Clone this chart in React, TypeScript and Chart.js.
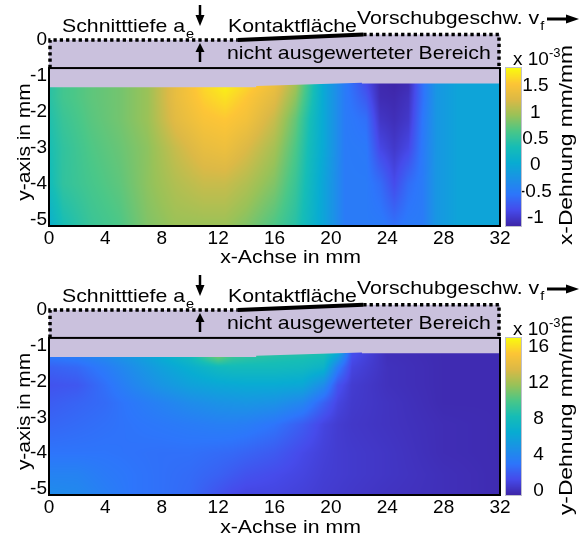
import React, { useEffect, useRef } from "react";
import { Chart, registerables } from "chart.js";

Chart.register(...registerables);

// ---------- axes ----------
const X_TICKS = [0, 4, 8, 12, 16, 20, 24, 28, 32];
const Y_TICKS = [0, -1, -2, -3, -4, -5];
const X_MIN = 0;
const X_MAX = 32;
const Y_MIN = -5.17;
const Y_MAX = 0;
const FRAME_TOP = -0.78;

// top edge of the evaluated data region (mm)
const DATA_TOP_X = [0, 14.7, 14.7, 22.2, 22.2, 32];
const DATA_TOP_Y = [-1.31, -1.31, -1.28, -1.19, -1.21, -1.21];

// workpiece surface / contact line (mm)
const CONTACT_START = [13.4, 0];
const CONTACT_END = [22.3, 0.15];

// ---------- x-strain (x 1e-3) ----------
const EX_X = [0, 1, 3, 5, 7, 9, 11, 12.5, 14, 16, 17.5, 18.5, 19.5, 21, 22.5, 23.5, 24.5, 25.5, 26.5, 27.5, 29, 32];
const EX_Y = [-1.2, -1.6, -2.2, -3, -4, -5.17];
const EX_ROW_1 = [0.45, 0.6, 0.72, 0.8, 0.95, 1.35, 1.65, 1.8, 1.65, 1.4, 1.0, 0.5, 0.0, -0.5, -0.85, -1.12, -1.15, -1.1, -0.6, -0.2, -0.05, -0.05];
const EX_ROW_2 = [0.45, 0.6, 0.72, 0.8, 0.95, 1.35, 1.6, 1.7, 1.55, 1.3, 0.9, 0.45, 0.0, -0.5, -0.75, -1.1, -1.12, -1.05, -0.6, -0.2, -0.05, -0.05];
const EX_ROW_3 = [0.4, 0.55, 0.7, 0.8, 0.95, 1.3, 1.5, 1.55, 1.45, 1.15, 0.75, 0.35, 0.0, -0.5, -0.6, -1.02, -1.08, -1.0, -0.55, -0.2, -0.05, -0.05];
const EX_ROW_4 = [0.35, 0.5, 0.66, 0.76, 0.9, 1.15, 1.35, 1.4, 1.25, 1.0, 0.65, 0.3, 0.0, -0.5, -0.52, -0.88, -1.0, -0.88, -0.52, -0.2, -0.05, -0.05];
const EX_ROW_5 = [0.3, 0.5, 0.62, 0.72, 0.9, 1.05, 1.15, 1.15, 1.05, 0.85, 0.55, 0.25, -0.05, -0.5, -0.5, -0.62, -0.85, -0.62, -0.5, -0.2, -0.05, -0.05];
const EX_ROW_6 = [0.1, 0.35, 0.55, 0.65, 0.85, 0.95, 0.95, 0.95, 0.85, 0.65, 0.45, 0.2, -0.05, -0.5, -0.5, -0.5, -0.58, -0.5, -0.5, -0.2, -0.05, -0.05];
const EX_CB_MIN = -1.15;
const EX_CB_MAX = 1.84;
const EX_CB_TICKS = [-1, -0.5, 0, 0.5, 1, 1.5];

// ---------- y-strain (x 1e-3) ----------
const EY_X = [0, 2, 4, 6, 8, 10, 12, 13, 14, 16, 18, 19.5, 20.5, 21.5, 24, 28, 32];
const EY_Y = [-1.2, -1.6, -2.1, -2.6, -3.2, -4, -4.6, -5.17];
const EY_ROW_1 = [3.5, 3.8, 4.5, 5.5, 6.8, 8.2, 12, 10, 9.5, 9.0, 8.8, 8.5, 6.5, 1.5, 0.0, -0.2, -0.2];
const EY_ROW_2 = [2.2, 2.5, 3.4, 4.6, 5.8, 6.8, 7.8, 8.0, 8.0, 8.0, 7.8, 7.2, 3.5, 1.0, 0.1, -0.2, -0.2];
const EY_ROW_3 = [1.6, 1.8, 2.8, 4.0, 5.0, 5.8, 6.2, 6.3, 6.4, 6.4, 6.2, 4.4, 1.6, 0.6, 0.1, -0.2, -0.2];
const EY_ROW_4 = [2.0, 2.3, 2.6, 3.2, 3.8, 4.4, 4.8, 4.9, 5.0, 4.8, 4.0, 2.2, 1.0, 0.5, 0.2, -0.2, -0.2];
const EY_ROW_5 = [2.4, 2.6, 2.8, 3.0, 3.2, 3.4, 3.6, 3.6, 3.5, 3.0, 2.0, 1.0, 0.6, 0.4, 0.2, -0.1, -0.2];
const EY_ROW_6 = [3.0, 3.0, 3.0, 2.9, 2.8, 2.8, 2.6, 2.5, 2.3, 1.9, 1.2, 0.8, 0.6, 0.5, 0.3, -0.1, -0.2];
const EY_ROW_7 = [3.8, 3.8, 3.3, 3.0, 2.8, 2.6, 2.2, 1.9, 1.6, 1.3, 1.0, 0.7, 0.6, 0.5, 0.3, 0.0, -0.2];
const EY_ROW_8 = [4.4, 4.2, 3.6, 3.0, 2.8, 2.5, 1.6, 1.2, 1.0, 1.0, 0.8, 0.6, 0.5, 0.4, 0.2, 0.0, -0.2];
const EY_CB_MIN = -0.45;
const EY_CB_MAX = 17.0;
const EY_CB_TICKS = [0, 4, 8, 12, 16];

// parula-like colormap anchors
const CMAP_POS = [0, 0.1, 0.2, 0.3, 0.4, 0.5, 0.6, 0.7, 0.8, 0.9, 1];
const CMAP_RGB = [
  [62, 38, 168], [70, 75, 235], [45, 118, 251], [27, 146, 230], [8, 172, 210],
  [22, 189, 182], [74, 199, 136], [153, 194, 88], [220, 185, 70], [253, 197, 54], [249, 251, 14],
];

const FONT_FAMILY = "'Liberation Sans', Arial, Helvetica, sans-serif";
const LAVENDER = "rgb(202,193,221)";
const SX = 1.12;

type Panel = {
  xs: number[];
  ys: number[];
  rows: number[][];
  cbMin: number;
  cbMax: number;
  cbTicks: number[];
  cbTitle: string;
  cbPad: number;
};

const PANEL_X: Panel = {
  xs: EX_X,
  ys: EX_Y,
  rows: [EX_ROW_1, EX_ROW_2, EX_ROW_3, EX_ROW_4, EX_ROW_5, EX_ROW_6],
  cbMin: EX_CB_MIN,
  cbMax: EX_CB_MAX,
  cbTicks: EX_CB_TICKS,
  cbTitle: "x-Dehnung mm/mm",
  cbPad: 19,
};

const PANEL_Y: Panel = {
  xs: EY_X,
  ys: EY_Y,
  rows: [EY_ROW_1, EY_ROW_2, EY_ROW_3, EY_ROW_4, EY_ROW_5, EY_ROW_6, EY_ROW_7, EY_ROW_8],
  cbMin: EY_CB_MIN,
  cbMax: EY_CB_MAX,
  cbTicks: EY_CB_TICKS,
  cbTitle: "y-Dehnung mm/mm",
  cbPad: 28,
};

function cmap(t: number): number[] {
  const u = Math.max(0, Math.min(1, t));
  for (let i = 0; i < CMAP_POS.length - 1; i++) {
    if (u <= CMAP_POS[i + 1]) {
      const f = (u - CMAP_POS[i]) / (CMAP_POS[i + 1] - CMAP_POS[i]);
      const a = CMAP_RGB[i];
      const b = CMAP_RGB[i + 1];
      return [a[0] + (b[0] - a[0]) * f, a[1] + (b[1] - a[1]) * f, a[2] + (b[2] - a[2]) * f];
    }
  }
  return CMAP_RGB[CMAP_RGB.length - 1];
}

function locate(arr: number[], v: number): [number, number] {
  const n = arr.length;
  const asc = arr[n - 1] > arr[0];
  const before = (a: number, b: number) => (asc ? a <= b : a >= b);
  if (before(v, arr[0])) return [0, 0];
  if (before(arr[n - 1], v)) return [n - 2, 1];
  for (let i = 0; i < n - 1; i++) {
    if (before(v, arr[i + 1])) return [i, (v - arr[i]) / (arr[i + 1] - arr[i])];
  }
  return [n - 2, 1];
}

function sample(p: Panel, xv: number, yv: number): number {
  const [i, tx] = locate(p.xs, xv);
  const [j, ty] = locate(p.ys, yv);
  const r0 = p.rows[j];
  const r1 = p.rows[j + 1];
  const a = r0[i] + (r0[i + 1] - r0[i]) * tx;
  const b = r1[i] + (r1[i + 1] - r1[i]) * tx;
  return a + (b - a) * ty;
}

function sText(
  ctx: CanvasRenderingContext2D,
  text: string,
  x: number,
  y: number,
  size: number,
  sx: number,
  align: CanvasTextAlign = "left",
  baseline: CanvasTextBaseline = "alphabetic",
  rot = 0
): number {
  ctx.save();
  ctx.font = `${size}px ${FONT_FAMILY}`;
  ctx.fillStyle = "#000";
  ctx.textAlign = align;
  ctx.textBaseline = baseline;
  ctx.translate(x, y);
  if (rot) ctx.rotate(rot);
  ctx.scale(sx, 1);
  ctx.fillText(text, 0, 0);
  const w = ctx.measureText(text).width * sx;
  ctx.restore();
  return w;
}

function arrow(ctx: CanvasRenderingContext2D, x0: number, y0: number, x1: number, y1: number, head: number, half: number, lw: number) {
  const dx = x1 - x0;
  const dy = y1 - y0;
  const len = Math.hypot(dx, dy);
  const ux = dx / len;
  const uy = dy / len;
  const bx = x1 - ux * head;
  const by = y1 - uy * head;
  ctx.save();
  ctx.strokeStyle = "#000";
  ctx.fillStyle = "#000";
  ctx.lineWidth = lw;
  ctx.beginPath();
  ctx.moveTo(x0, y0);
  ctx.lineTo(bx + ux, by + uy);
  ctx.stroke();
  ctx.beginPath();
  ctx.moveTo(x1, y1);
  ctx.lineTo(bx - uy * half, by + ux * half);
  ctx.lineTo(bx + uy * half, by - ux * half);
  ctx.closePath();
  ctx.fill();
  ctx.restore();
}

function makePlugin(p: Panel) {
  return {
    id: "heatmapPanel",
    beforeDatasetsDraw(chart: any) {
      const ctx: CanvasRenderingContext2D = chart.ctx;
      const xs = chart.scales.x;
      const ys = chart.scales.y;
      const cs = chart.scales.cb;
      const px = (v: number) => xs.getPixelForValue(v);
      const py = (v: number) => ys.getPixelForValue(v);

      // heatmap
      const topV = Math.max(...DATA_TOP_Y);
      const x0 = Math.round(px(X_MIN));
      const x1 = Math.round(px(X_MAX));
      const y0 = Math.floor(py(topV));
      const y1 = Math.round(py(Y_MIN));
      const w = x1 - x0;
      const h = y1 - y0;
      const off = document.createElement("canvas");
      off.width = w;
      off.height = h;
      const octx = off.getContext("2d")!;
      const img = octx.createImageData(w, h);
      for (let j = 0; j < h; j++) {
        const yv = ys.getValueForPixel(y0 + j + 0.5);
        for (let i = 0; i < w; i++) {
          const xv = xs.getValueForPixel(x0 + i + 0.5);
          const v = sample(p, xv, yv);
          const c = cmap((v - p.cbMin) / (p.cbMax - p.cbMin));
          const k = (j * w + i) * 4;
          img.data[k] = c[0];
          img.data[k + 1] = c[1];
          img.data[k + 2] = c[2];
          img.data[k + 3] = 255;
        }
      }
      octx.putImageData(img, 0, 0);
      ctx.drawImage(off, x0, y0);

      // non-evaluated region
      ctx.save();
      ctx.fillStyle = LAVENDER;
      ctx.beginPath();
      ctx.moveTo(px(X_MIN), py(0));
      ctx.lineTo(px(CONTACT_START[0]), py(CONTACT_START[1]));
      ctx.lineTo(px(CONTACT_END[0]), py(CONTACT_END[1]));
      ctx.lineTo(px(X_MAX), py(CONTACT_END[1]));
      for (let k = DATA_TOP_X.length - 1; k >= 0; k--) ctx.lineTo(px(DATA_TOP_X[k]), py(DATA_TOP_Y[k]));
      ctx.closePath();
      ctx.fill();
      ctx.restore();

      // frame
      ctx.save();
      ctx.strokeStyle = "#000";
      ctx.lineWidth = 2;
      ctx.strokeRect(px(X_MIN), py(FRAME_TOP), px(X_MAX) - px(X_MIN), py(Y_MIN) - py(FRAME_TOP));
      ctx.restore();

      // dotted outline of the removed layer
      ctx.save();
      ctx.strokeStyle = "#000";
      ctx.lineWidth = 3.5;
      ctx.setLineDash([3.3, 3]);
      ctx.beginPath();
      ctx.moveTo(px(X_MIN) + 1, py(FRAME_TOP));
      ctx.lineTo(px(X_MIN) + 1, py(0));
      ctx.lineTo(px(CONTACT_START[0]), py(0));
      ctx.stroke();
      ctx.beginPath();
      ctx.moveTo(px(CONTACT_END[0]), py(CONTACT_END[1]));
      ctx.lineTo(px(X_MAX) - 1, py(CONTACT_END[1]));
      ctx.lineTo(px(X_MAX) - 1, py(FRAME_TOP));
      ctx.stroke();
      ctx.restore();

      // contact line
      ctx.save();
      ctx.strokeStyle = "#000";
      ctx.lineWidth = 4;
      ctx.beginPath();
      ctx.moveTo(px(CONTACT_START[0]), py(CONTACT_START[1]));
      ctx.lineTo(px(CONTACT_END[0]), py(CONTACT_END[1]));
      ctx.stroke();
      ctx.restore();

      // colorbar
      const cbx = chart.chartArea.right + 6;
      const cbw = 15;
      const cTop = Math.round(cs.getPixelForValue(p.cbMax));
      const cBot = Math.round(cs.getPixelForValue(p.cbMin));
      for (let yy = cTop; yy < cBot; yy++) {
        const v = cs.getValueForPixel(yy + 0.5);
        const c = cmap((v - p.cbMin) / (p.cbMax - p.cbMin));
        ctx.fillStyle = `rgb(${c[0] | 0},${c[1] | 0},${c[2] | 0})`;
        ctx.fillRect(cbx, yy, cbw, 1);
      }
      ctx.save();
      ctx.strokeStyle = "rgba(185,185,200,0.9)";
      ctx.lineWidth = 1;
      ctx.strokeRect(cbx - 0.5, cTop - 0.5, cbw + 1, cBot - cTop + 1);
      ctx.restore();
    },
    afterDraw(chart: any) {
      const ctx: CanvasRenderingContext2D = chart.ctx;
      const area = chart.chartArea;
      const ys = chart.scales.y;
      const right = area.right;

      // annotations above the plot
      const wS = sText(ctx, "Schnitttiefe a", 62, 32, 19, SX);
      sText(ctx, "e", 62 + wS + 1, 38, 13, SX);
      arrow(ctx, 200, 5, 200, 26, 11, 4.5, 2.5);
      arrow(ctx, 200, 62, 200, 43, 9, 4.5, 2.5);
      sText(ctx, "Kontaktfläche", 228, 32, 19, SX);
      const wV = sText(ctx, "Vorschubgeschw. v", 357, 24, 19, SX);
      sText(ctx, "f", 357 + wV + 1, 30, 13, SX);
      arrow(ctx, 547, 19, 579, 19, 13, 4.5, 3);
      sText(ctx, "nicht ausgewerteter Bereich", 227, 59, 19, SX);

      // axis titles
      sText(ctx, "x-Achse in mm", (area.left + right) / 2 + 16, 263, 19, SX, "center");
      sText(ctx, "y-axis in mm", 25, (ys.getPixelForValue(FRAME_TOP) + area.bottom) / 2 - 5, 19, 1.1, "center", "middle", -Math.PI / 2);

      // colorbar labels
      const wx = sText(ctx, "x 10", right + 13, 65, 19, 1.0);
      sText(ctx, "-3", right + 13 + wx, 57, 13, 1.0);
      sText(ctx, p.cbTitle, right + 67, 145, 19, 1.2, "center", "middle", -Math.PI / 2);
    },
  };
}

function makeChart(canvas: HTMLCanvasElement, p: Panel) {
  const font = { family: FONT_FAMILY, size: 19 };
  const fmt = (v: any) => String(v);
  const pts: { x: number; y: number }[] = [];
  p.ys.forEach((yv) => p.xs.forEach((xv) => pts.push({ x: xv, y: yv })));
  const cbAxisMax = p.cbMin + ((p.cbMax - p.cbMin) * (Y_MAX - Y_MIN)) / (FRAME_TOP - Y_MIN);
  const grid = { display: false, drawTicks: false, drawOnChartArea: false };
  return new Chart(canvas, {
    type: "scatter",
    data: {
      datasets: [
        {
          data: pts,
          pointRadius: 0,
          pointHoverRadius: 0,
          showLine: false,
        },
      ],
    },
    options: {
      animation: false,
      responsive: false,
      maintainAspectRatio: false,
      events: [],
      layout: { padding: { top: 40, left: 0, right: 0, bottom: 0 } },
      plugins: {
        legend: { display: false },
        tooltip: { enabled: false },
        title: { display: false },
      },
      scales: {
        x: {
          type: "linear",
          position: "bottom",
          min: X_MIN,
          max: X_MAX,
          grid,
          border: { display: false },
          ticks: { font, color: "#000", padding: 1, autoSkip: false, maxRotation: 0, callback: fmt },
          afterBuildTicks: (s: any) => {
            s.ticks = X_TICKS.map((v) => ({ value: v }));
          },
          afterFit: (s: any) => {
            s.height = 44;
          },
        },
        y: {
          type: "linear",
          position: "left",
          min: Y_MIN,
          max: Y_MAX,
          grid,
          border: { display: false },
          ticks: { font, color: "#000", padding: 2, autoSkip: false, callback: fmt },
          afterBuildTicks: (s: any) => {
            s.ticks = Y_TICKS.map((v) => ({ value: v }));
          },
          afterFit: (s: any) => {
            s.width = 49;
          },
        },
        cb: {
          type: "linear",
          axis: "y",
          position: "right",
          min: p.cbMin,
          max: cbAxisMax,
          grid,
          border: { display: false },
          ticks: { font, color: "#000", padding: p.cbPad, crossAlign: "center", autoSkip: false, callback: fmt },
          afterBuildTicks: (s: any) => {
            s.ticks = p.cbTicks.map((v) => ({ value: v }));
          },
          afterFit: (s: any) => {
            s.width = 83;
          },
        },
      },
    } as any,
    plugins: [makePlugin(p)],
  });
}

export default function App() {
  const topRef = useRef<HTMLCanvasElement>(null);
  const botRef = useRef<HTMLCanvasElement>(null);
  useEffect(() => {
    const c1 = makeChart(topRef.current!, PANEL_X);
    const c2 = makeChart(botRef.current!, PANEL_Y);
    return () => {
      c1.destroy();
      c2.destroy();
    };
  }, []);
  return (
    <div style={{ position: "absolute", left: 0, top: 0, width: 583, height: 539, background: "#fff" }}>
      <canvas ref={topRef} width={583} height={270} style={{ display: "block" }} />
      <canvas ref={botRef} width={583} height={269} style={{ display: "block" }} />
    </div>
  );
}
